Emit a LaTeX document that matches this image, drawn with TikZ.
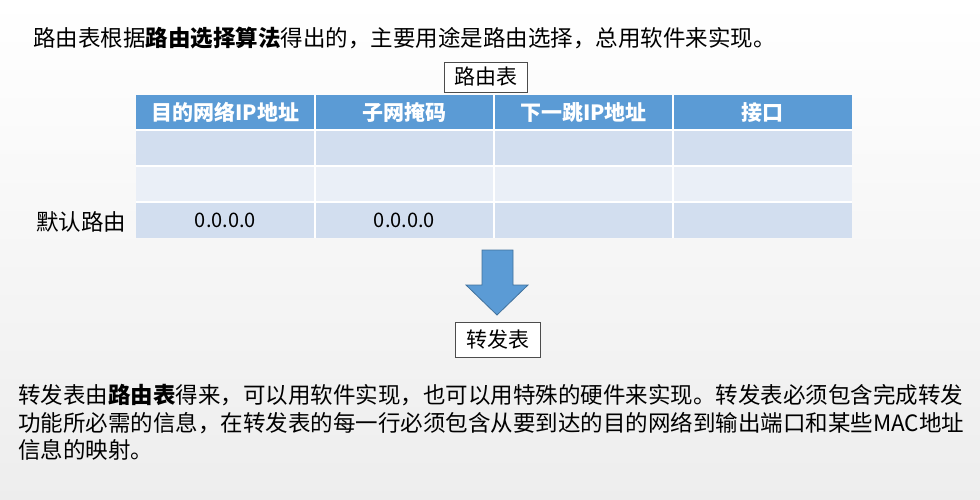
\documentclass[tikz,border=0pt]{standalone}
\usepackage{fontspec}
\setmainfont{Noto Sans CJK SC}
\definecolor{hdr}{HTML}{5B9BD5}
\definecolor{rowa}{HTML}{D2DEEF}
\definecolor{rowb}{HTML}{EAEFF7}
\definecolor{arr}{HTML}{5B9BD5}
\definecolor{arrb}{HTML}{41719C}
\begin{document}
\begin{tikzpicture}[x=1pt,y=-1pt,
  txt/.style={anchor=west,inner sep=0pt,font=\fontsize{22.5}{26}\selectfont},
  lbl/.style={draw=black!70,line width=0.6pt,fill=white,inner sep=0pt,font=\fontsize{21}{24}\selectfont},
  hd/.style={text=white,font=\bfseries\fontsize{21}{24}\selectfont},
  cell/.style={font=\fontsize{20}{23}\selectfont}]
\shade[top color=white,bottom color=black!7] (0,0) rectangle (980,500);
\useasboundingbox (0,0) rectangle (980,500);
\node[txt] (t1) at (33,38) {路由表根据\textbf{路由选择算法}得出的，主要用途是路由选择，总用软件来实现。};
\node[lbl,minimum width=83pt,minimum height=30pt] (rt) at (485.5,77) {路由表};
% table
\fill[hdr] (136,95) rectangle (852,130);
\fill[rowa] (136,130) rectangle (852,166);
\fill[rowb] (136,166) rectangle (852,202);
\fill[rowa] (136,202) rectangle (852,238);
\foreach \y in {130,166,202} \draw[white,line width=1.2pt] (136,\y) -- (852,\y);
\foreach \x in {315,494,673} \draw[white,line width=1.2pt] (\x,95) -- (\x,238);
\node[hd] (h1) at (225.5,112.5) {目的网络IP地址};
\node[hd] (h2) at (404.5,112.5) {子网掩码};
\node[hd] (h3) at (583.5,112.5) {下一跳IP地址};
\node[hd] (h4) at (762.5,112.5) {接口};
\node[cell] (c1) at (225.5,220) {0.0.0.0};
\node[cell] (c2) at (404.5,220) {0.0.0.0};
\node[txt] (dr) at (36,222) {默认路由};
\draw[fill=arr,draw=arrb,line width=0.8pt] (482,250) -- (513,250) -- (513,285) -- (528,285) -- (497,315) -- (466,285) -- (482,285) -- cycle;
\node[lbl,minimum width=85pt,minimum height=35pt] (ft) at (497.5,339.5) {转发表};
\node[txt] (b1) at (18,395) {转发表由\textbf{路由表}得来，可以用软件实现，也可以用特殊的硬件来实现。转发表必须包含完成转发};
\node[txt] (b2) at (18,423) {功能所必需的信息，在转发表的每一行必须包含从要到达的目的网络到输出端口和某些MAC地址};
\node[txt] (b3) at (18,450) {信息的映射。};
\end{tikzpicture}
\end{document}
